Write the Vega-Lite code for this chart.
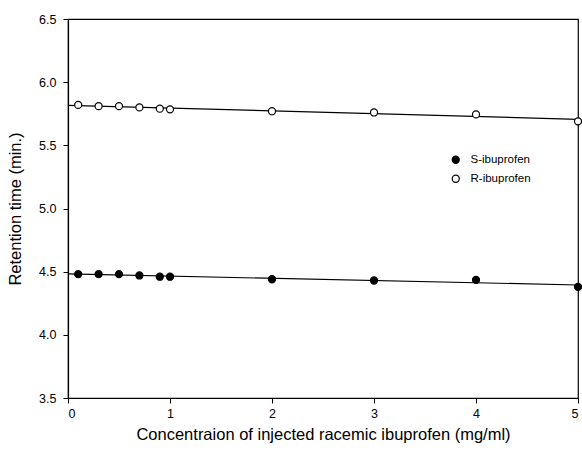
{
  "$schema": "https://vega.github.io/schema/vega-lite/v6.json",
  "width": 510,
  "height": 379,
  "autosize": "none",
  "padding": {"left": 68, "top": 19, "right": 4, "bottom": 62},
  "background": "white",
  "config": {
    "font": "Liberation Sans",
    "view": {"stroke": "black", "strokeWidth": 1.2},
    "axis": {
      "grid": false,
      "domainColor": "black",
      "tickColor": "black",
      "labelColor": "black",
      "titleColor": "black",
      "labelFont": "Liberation Sans",
      "titleFont": "Liberation Sans",
      "labelFontSize": 12.5,
      "titleFontSize": 16.5,
      "titleFontWeight": "normal",
      "tickSize": 5,
      "domainWidth": 1.2
    }
  },
  "data": {
    "values": [
      {"conc": 0.1, "rt": 4.48, "series": "S-ibuprofen"},
      {"conc": 0.3, "rt": 4.48, "series": "S-ibuprofen"},
      {"conc": 0.5, "rt": 4.48, "series": "S-ibuprofen"},
      {"conc": 0.7, "rt": 4.47, "series": "S-ibuprofen"},
      {"conc": 0.9, "rt": 4.46, "series": "S-ibuprofen"},
      {"conc": 1.0, "rt": 4.46, "series": "S-ibuprofen"},
      {"conc": 2.0, "rt": 4.44, "series": "S-ibuprofen"},
      {"conc": 3.0, "rt": 4.43, "series": "S-ibuprofen"},
      {"conc": 4.0, "rt": 4.435, "series": "S-ibuprofen"},
      {"conc": 5.0, "rt": 4.38, "series": "S-ibuprofen"},
      {"conc": 0.1, "rt": 5.82, "series": "R-ibuprofen"},
      {"conc": 0.3, "rt": 5.81, "series": "R-ibuprofen"},
      {"conc": 0.5, "rt": 5.81, "series": "R-ibuprofen"},
      {"conc": 0.7, "rt": 5.80, "series": "R-ibuprofen"},
      {"conc": 0.9, "rt": 5.79, "series": "R-ibuprofen"},
      {"conc": 1.0, "rt": 5.785, "series": "R-ibuprofen"},
      {"conc": 2.0, "rt": 5.77, "series": "R-ibuprofen"},
      {"conc": 3.0, "rt": 5.76, "series": "R-ibuprofen"},
      {"conc": 4.0, "rt": 5.745, "series": "R-ibuprofen"},
      {"conc": 5.0, "rt": 5.69, "series": "R-ibuprofen"}
    ]
  },
  "layer": [
    {
      "transform": [
        {"regression": "rt", "on": "conc", "groupby": ["series"], "extent": [0, 5]}
      ],
      "mark": {"type": "line", "color": "black", "strokeWidth": 1.2},
      "encoding": {
        "x": {"field": "conc", "type": "quantitative"},
        "y": {"field": "rt", "type": "quantitative"},
        "detail": {"field": "series"}
      }
    },
    {
      "mark": {"type": "circle", "size": 50, "stroke": "black", "strokeWidth": 1.2, "opacity": 1},
      "encoding": {
        "x": {
          "field": "conc",
          "type": "quantitative",
          "scale": {"domain": [0, 5], "nice": false},
          "axis": {"values": [0, 1, 2, 3, 4, 5], "format": "d", "title": "Concentraion of injected racemic ibuprofen (mg/ml)", "labelPadding": 4, "titlePadding": 7}
        },
        "y": {
          "field": "rt",
          "type": "quantitative",
          "scale": {"domain": [3.5, 6.5], "nice": false, "zero": false},
          "axis": {"values": [3.5, 4.0, 4.5, 5.0, 5.5, 6.0, 6.5], "format": ".1f", "title": "Retention time (min.)", "labelPadding": 7, "titlePadding": 15}
        },
        "fill": {
          "field": "series",
          "type": "nominal",
          "scale": {"domain": ["S-ibuprofen", "R-ibuprofen"], "range": ["black", "white"]},
          "legend": {
            "title": null,
            "orient": "none",
            "legendX": 382,
            "legendY": 135,
            "symbolType": "circle",
            "symbolSize": 50,
            "symbolStrokeColor": "black",
            "symbolStrokeWidth": 1.2,
            "symbolOpacity": 1,
            "labelFontSize": 11.5,
            "labelFont": "Liberation Sans",
            "labelColor": "black",
            "rowPadding": 6,
            "labelOffset": 9
          }
        }
      }
    }
  ]
}
